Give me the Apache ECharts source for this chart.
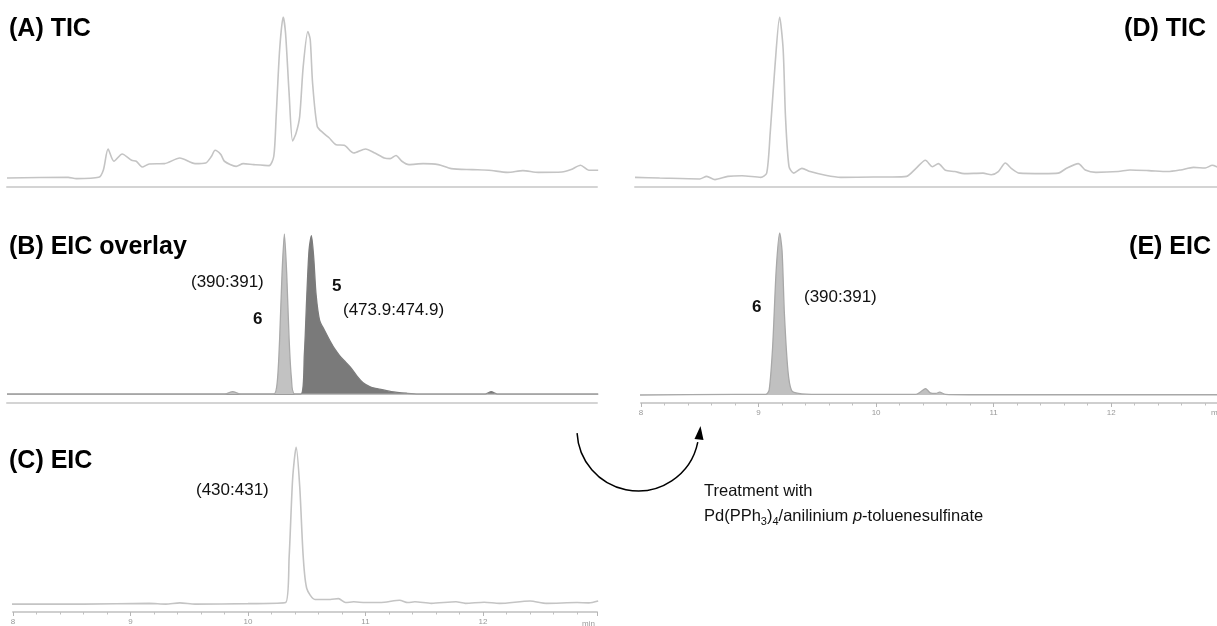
<!DOCTYPE html>
<html>
<head>
<meta charset="utf-8">
<script src="https://cdn.jsdelivr.net/npm/echarts@6/dist/echarts.min.js"></script>
<style>
html,body{margin:0;padding:0;background:#fff;}
#chart{width:1217px;height:626px;}
</style>
</head>
<body>
<div id="chart"></div>
<script>
// ---- data (retention time in min, relative intensity in %) ----
const aTime = [7.95,8.47,8.54,8.73,8.77,8.81,8.86,8.93,9.01,9.05,9.10,9.16,9.29,9.42,9.55,9.64,9.69,9.72,9.77,9.80,9.90,9.96,10.05,10.18,10.22,10.24,10.27,10.30,10.32,10.35,10.38,10.41,10.44,10.47,10.51,10.53,10.55,10.59,10.64,10.69,10.75,10.82,10.90,11.00,11.08,11.16,11.21,11.26,11.31,11.37,11.49,11.62,11.73,11.91,12.05,12.21,12.34,12.47,12.67,12.75,12.83,12.90,12.98];
const aTic  = [0,0.4,-0.4,0.4,5,18,10.4,14.9,11,10.4,6.8,8.7,8.9,12.4,8.9,9.3,13.5,17.2,14.5,10.4,7.2,8.9,8.3,7.7,13.5,38,80,100,90,53,23,28,38,69,91,86,59,32,28,25,20.7,20.3,15.5,18,15.5,12.4,12,14,10.4,8.3,8.9,8.3,5.8,5.2,4.8,3.5,4.6,3.5,3.7,5.2,7.9,4.8,4.8];

const b6Time = [7.95,9.80,9.87,9.94,10.22,10.25,10.27,10.29,10.31,10.33,10.35,10.37,10.40,12.98];
const b6Eic  = [0,0,1.5,0,0,8,35,75,100,75,35,10,0,0];

const b5Time = [7.95,10.45,10.48,10.50,10.52,10.54,10.56,10.58,10.61,10.65,10.70,10.74,10.78,10.83,10.88,10.93,10.98,11.04,11.12,11.22,11.35,11.45,12.02,12.07,12.12,12.98];
const b5Eic  = [0,0,25,60,90,99,85,62,46,40,33,28,24,20,16,11,7,4.5,3,1.5,0.5,0,0,1.5,0,0];

const cTime = [7.95,8.60,9.16,9.30,9.42,9.55,10.00,10.32,10.35,10.38,10.41,10.44,10.47,10.50,10.57,10.70,10.77,10.83,10.90,11.00,11.16,11.29,11.36,11.42,11.56,11.77,11.85,12.01,12.14,12.40,12.54,12.80,12.90,12.98];
const cEic  = [0,0,0.5,0,0.8,0,0.3,1,30,80,100,75,30,10,3,3,3.5,1,1.5,1,1.2,2.5,1,1.5,0.5,1.5,0.5,1.2,0.5,2,0.5,1,0.8,2];

const dTime = [7.95,8.16,8.50,8.56,8.63,8.74,8.86,9.02,9.07,9.10,9.14,9.18,9.21,9.23,9.26,9.30,9.37,9.44,9.57,9.70,9.98,10.14,10.26,10.34,10.42,10.48,10.53,10.59,10.67,10.75,10.91,10.98,11.04,11.10,11.15,11.22,11.42,11.55,11.62,11.72,11.78,11.87,12.06,12.16,12.32,12.48,12.59,12.70,12.80,12.86,12.92];
const dTic  = [0.4,0,-0.6,1,-1,1,1.4,0.4,3,28,69,100,80,38,7,3,6,4,1.7,0.4,0.6,0.6,1,6,11,7,8.9,4.8,4,2.7,3,2,4,9.3,6,3,2.7,3,6,8.9,5,3.5,4,5,4.6,4,5,6.6,6.2,7.9,6.2];

const eTime = [7.95,8.80,9.06,9.09,9.12,9.15,9.18,9.20,9.22,9.25,9.28,9.34,9.50,10.34,10.38,10.42,10.46,10.51,10.54,10.59,10.78,12.90];
const eEic  = [0,0.4,0.4,3,30,77,100,89,50,15,3,1,0.4,0.4,2,4,1.4,1,1.8,0.4,0.2,0.2];

const tickLabelsUnit = 'min';

// ---- helpers ----
const zip = (t, v) => t.map((x, i) => [x, v[i]]);
const FONT = '"Liberation Sans", Arial, Helvetica, sans-serif';

function plainX(grid, min, max) {
  return {
    gridIndex: grid, type: 'value', min: min, max: max,
    axisLine: { show: true, onZero: false, lineStyle: { color: '#d4d4d4', width: 2 } },
    axisTick: { show: false }, axisLabel: { show: false }, splitLine: { show: false }
  };
}
function tickX(grid, min, max) {
  return {
    gridIndex: grid, type: 'value', min: min, max: max, interval: 1,
    axisLine: { show: true, onZero: false, lineStyle: { color: '#cfcfcf', width: 2 } },
    axisTick: { show: true, length: 4, lineStyle: { color: '#b5b5b5', width: 1 } },
    minorTick: { show: true, splitNumber: 5, length: 2.5, lineStyle: { color: '#c0c0c0', width: 1 } },
    axisLabel: { show: true, fontSize: 8, color: '#999', margin: 6, fontFamily: FONT,
      showMaxLabel: false,
      formatter: v => (Math.abs(v - Math.round(v)) < 1e-6 ? String(Math.round(v)) : '') },
    splitLine: { show: false }, minorSplitLine: { show: false }
  };
}
function yAx(grid, min) {
  return { gridIndex: grid, type: 'value', min: min, max: 100, show: false, splitLine: { show: false } };
}
function traceLine(idx, data, color, width) {
  return { type: 'line', xAxisIndex: idx, yAxisIndex: idx, data: data, showSymbol: false, symbol: 'none',
    smooth: 0.25, lineStyle: { color: color, width: width }, silent: true };
}
function areaLine(idx, data, lineColor, fillColor, z) {
  return { type: 'line', xAxisIndex: idx, yAxisIndex: idx, data: data, showSymbol: false, symbol: 'none',
    smooth: 0.25, z: z, lineStyle: { color: lineColor, width: 1.3 },
    areaStyle: { color: fillColor, opacity: 1 }, silent: true };
}

const titleStyle = (text, align) => ({ text: text, fill: '#000', fontSize: 25, fontWeight: 'bold', fontFamily: FONT, align: align, verticalAlign: 'middle' });
const labStyle = (text, bold, size) => ({ text: text, fill: '#111', fontSize: size || 17, fontWeight: bold ? 'bold' : 'normal', fontFamily: FONT, align: 'left', verticalAlign: 'middle' });

const option = {
  animation: false,
  backgroundColor: '#fff',
  grid: [
    { left: 7,   width: 590, top: 17,  height: 170 },
    { left: 7,   width: 590, top: 234, height: 169 },
    { left: 13,  width: 584, top: 447, height: 168 },
    { left: 635, width: 582, top: 17,  height: 170 },
    { left: 641, width: 576, top: 233, height: 170 }
  ],
  xAxis: [
    plainX(0, 7.95, 12.97),
    plainX(1, 7.95, 12.97),
    tickX(2, 8, 12.97),
    plainX(3, 7.95, 12.9),
    tickX(4, 8, 12.9)
  ],
  yAxis: [ yAx(0, -5.6), yAx(1, -5.6), yAx(2, -5), yAx(3, -5.6), yAx(4, -4.9) ],
  series: [
    traceLine(0, zip(aTime, aTic), '#c4c4c4', 1.6),
    areaLine(1, zip(b6Time, b6Eic), '#a9a9a9', '#c2c2c2', 3),
    areaLine(1, zip(b5Time, b5Eic), '#7c7c7c', '#7a7a7a', 2),
    traceLine(2, zip(cTime, cEic), '#c4c4c4', 1.6),
    traceLine(3, zip(dTime, dTic), '#c4c4c4', 1.6),
    areaLine(4, zip(eTime, eEic), '#a8a8a8', '#c0c0c0', 2)
  ],
  graphic: [
    { type: 'text', x: 9,    y: 29,  style: titleStyle('(A) TIC', 'left') },
    { type: 'text', x: 9,    y: 247, style: titleStyle('(B) EIC overlay', 'left') },
    { type: 'text', x: 9,    y: 461, style: titleStyle('(C) EIC', 'left') },
    { type: 'text', x: 1206, y: 29,  style: titleStyle('(D) TIC', 'right') },
    { type: 'text', x: 1211, y: 247, style: titleStyle('(E) EIC', 'right') },

    { type: 'text', x: 191, y: 282, style: labStyle('(390:391)') },
    { type: 'text', x: 253, y: 319, style: labStyle('6', true, 17) },
    { type: 'text', x: 332, y: 286, style: labStyle('5', true, 17) },
    { type: 'text', x: 343, y: 310, style: labStyle('(473.9:474.9)') },
    { type: 'text', x: 196, y: 490, style: labStyle('(430:431)') },
    { type: 'text', x: 752, y: 307, style: labStyle('6', true, 17) },
    { type: 'text', x: 804, y: 297, style: labStyle('(390:391)') },

    { type: 'text', x: 582, y: 624, style: { text: tickLabelsUnit, fill: '#999', fontSize: 8, fontFamily: FONT, align: 'left', verticalAlign: 'middle' } },
    { type: 'text', x: 1211, y: 413, style: { text: tickLabelsUnit, fill: '#999', fontSize: 8, fontFamily: FONT, align: 'left', verticalAlign: 'middle' } },

    { type: 'arc', shape: { cx: 638, cy: 430, r: 61, startAngle: 0.2, endAngle: 3.09, clockwise: true },
      style: { stroke: '#000', lineWidth: 1.5, fill: null } },
    { type: 'polygon', shape: { points: [[700.5, 426], [694.5, 439], [703.5, 440]] }, style: { fill: '#000' } },

    { type: 'text', x: 704, y: 491, style: { text: 'Treatment with', fill: '#111', fontSize: 16.5, fontFamily: FONT, align: 'left', verticalAlign: 'middle' } },
    { type: 'text', x: 704, y: 516, style: {
        text: '{n|Pd(PPh}{s|3}{n|)}{s|4}{n|/anilinium }{i|p}{n|-toluenesulfinate}',
        fill: '#111', fontFamily: FONT, align: 'left', verticalAlign: 'middle',
        rich: {
          n: { fontSize: 16.5, lineHeight: 22, fontFamily: FONT, fill: '#111' },
          i: { fontSize: 16.5, lineHeight: 22, fontStyle: 'italic', fontFamily: FONT, fill: '#111' },
          s: { fontSize: 11, lineHeight: 11, verticalAlign: 'bottom', fontFamily: FONT, fill: '#111' }
        }
      } }
  ]
};

const chart = echarts.init(document.getElementById('chart'), null, { renderer: 'canvas' });
chart.setOption(option);
</script>
</body>
</html>
